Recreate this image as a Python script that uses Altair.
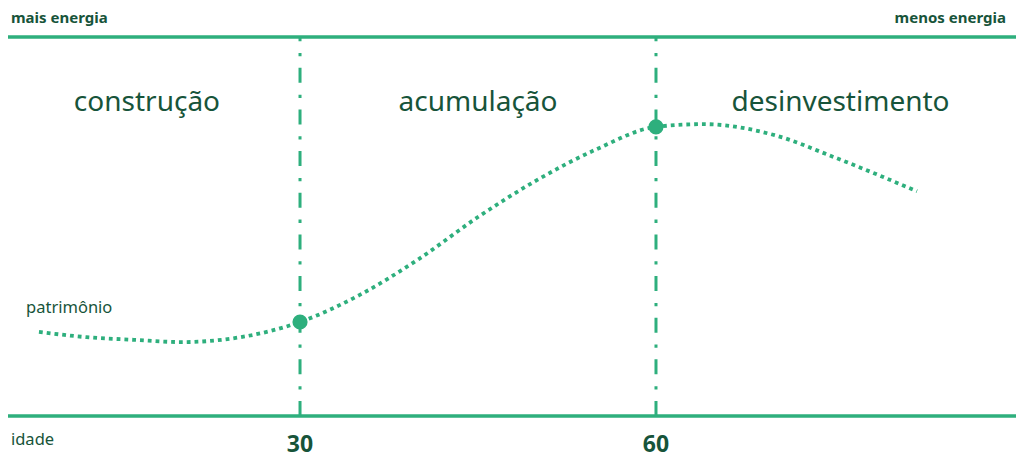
import pandas as pd
import altair as alt

GREEN = "#2eaf7d"
DARK = "#17543a"
FONT = "Noto Sans"

# curva de patrimônio ao longo da idade (0 = linha de baixo, 100 = linha de cima)
idade = [8, 12, 16, 20, 25, 30, 35, 40, 45, 50, 55, 60, 64, 70, 75, 82]
patrimonio = [22.2, 20.8, 20.1, 19.5, 20.8, 24.8, 31.9, 41.4, 52.5, 62.3,
              70.4, 76.3, 77.0, 74.1, 68.3, 59.3]

# idades que separam as fases
marcos = [30, 60]
fases = ["construção", "acumulação", "desinvestimento"]
fases_idade = [17.1, 45.0, 75.55]

curva = pd.DataFrame({"idade": idade, "patrimonio": patrimonio})
pontos = curva[curva["idade"].isin(marcos)]
divisoes = pd.DataFrame({"idade": marcos, "base": 0, "topo": 100,
                         "rotulo": [str(m) for m in marcos], "y_rotulo": -9.5})
nomes = pd.DataFrame({"fase": fases, "idade": fases_idade, "y": 80.5})
bordas = pd.DataFrame({"y": [0, 100]})

x_scale = alt.Scale(domain=[5.39, 90.34], nice=False, zero=False)
y_scale = alt.Scale(domain=[-12.4, 107.65], nice=False, zero=False)


def xq(field):
    return alt.X(field, type="quantitative", scale=x_scale, axis=None)


def yq(field):
    return alt.Y(field, type="quantitative", scale=y_scale, axis=None)


linhas = alt.Chart(bordas).mark_rule(color=GREEN, strokeWidth=3.5).encode(y=yq("y"))

verticais = alt.Chart(divisoes).mark_rule(
    color=GREEN, strokeWidth=3, strokeDash=[15, 11.5, 3.3, 11.85], strokeCap="butt"
).encode(x=xq("idade"), y=yq("base"), y2="topo")

linha = alt.Chart(curva).mark_line(
    color=GREEN, strokeWidth=3.8, strokeDash=[3.8, 4], strokeCap="butt", interpolate="monotone"
).encode(x=xq("idade"), y=yq("patrimonio"))

marcadores = alt.Chart(pontos).mark_circle(color=GREEN, size=230, opacity=1).encode(
    x=xq("idade"), y=yq("patrimonio"))

titulos = alt.Chart(nomes).mark_text(
    font=FONT, fontSize=28, color=DARK, align="center", baseline="alphabetic"
).encode(x=xq("idade"), y=yq("y"), text="fase")

idades = alt.Chart(divisoes).mark_text(
    font=FONT, fontSize=23, fontWeight="bold", color=DARK, align="center", baseline="alphabetic"
).encode(x=xq("idade"), y=yq("y_rotulo"), text="rotulo")

cantos = pd.DataFrame({
    "texto": ["mais energia", "menos energia"],
    "idade": [5.64, 89.49],
    "y": [103.8, 103.8],
    "lado": ["esq", "dir"],
})
mais = alt.Chart(cantos[cantos["lado"] == "esq"]).mark_text(
    font=FONT, fontSize=15, fontWeight="bold", color=DARK, align="left", baseline="alphabetic"
).encode(x=xq("idade"), y=yq("y"), text="texto")
menos = alt.Chart(cantos[cantos["lado"] == "dir"]).mark_text(
    font=FONT, fontSize=15, fontWeight="bold", color=DARK, align="right", baseline="alphabetic"
).encode(x=xq("idade"), y=yq("y"), text="texto")

eixos = pd.DataFrame({"texto": ["patrimônio", "idade"], "idade": [6.91, 5.64], "y": [27.2, -7.65]})
nomes_eixos = alt.Chart(eixos).mark_text(
    font=FONT, fontSize=16.5, color=DARK, align="left", baseline="alphabetic"
).encode(x=xq("idade"), y=yq("y"), text="texto")

chart = alt.layer(
    linhas, verticais, linha, marcadores, titulos, idades, mais, menos, nomes_eixos
).properties(
    width=1008, height=455, padding=0,
    autosize=alt.AutoSizeParams(type="none"),
    background="white",
).configure_view(stroke=None)

chart.save("out.html", embed_options={"renderer": "svg", "actions": False})
